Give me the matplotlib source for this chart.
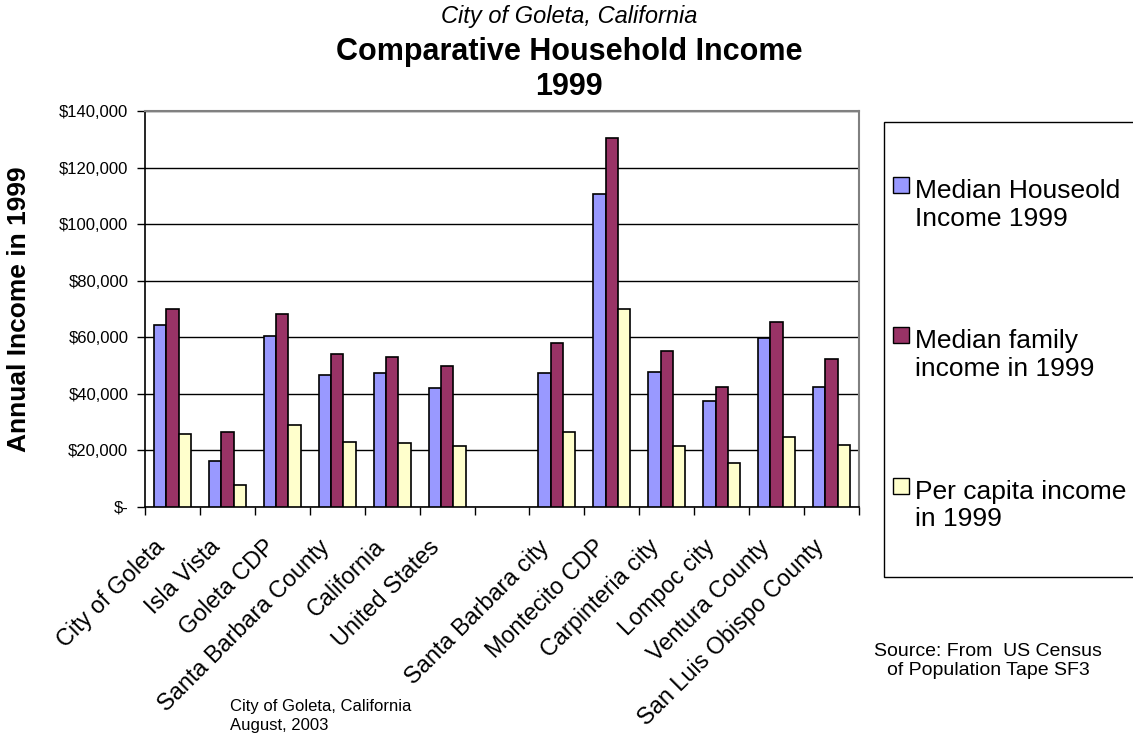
import numpy as np
import matplotlib
matplotlib.use("Agg")
import matplotlib.pyplot as plt
import matplotlib.transforms as mtransforms
from matplotlib.patches import Rectangle
from matplotlib.ticker import FuncFormatter, MultipleLocator

plt.rcParams['font.family'] = ['Liberation Sans', 'DejaVu Sans']

# Areas compared (blank entry separates the local group from the regional group)
areas = ["City of Goleta", "Isla Vista", "Goleta CDP", "Santa Barbara County",
         "California", "United States", "",
         "Santa Barbara city", "Montecito CDP", "Carpinteria city",
         "Lompoc city", "Ventura County", "San Luis Obispo County"]

median_household = [64500, 16300, 60400, 46700, 47500, 42000, np.nan,
                    47500, 110700, 47700, 37600, 59700, 42400]
median_family = [70100, 26400, 68100, 54000, 53000, 50000, np.nan,
                 57900, 130300, 55000, 42400, 65300, 52400]
per_capita = [25800, 7700, 29000, 23100, 22700, 21600, np.nan,
              26500, 70100, 21700, 15500, 24600, 21900]

series_names = ["Median Houseold\nIncome 1999",
                "Median family\nincome in 1999",
                "Per capita income\nin 1999"]
series_colors = ["#9999FF", "#993366", "#FFFFCC"]

W, H = 1133, 736
fig = plt.figure(figsize=(W / 100, H / 100), dpi=100)


def fx(x):
    return x / W


def fy(y):
    return 1 - y / H


ax = fig.add_axes([fx(145), fy(507), fx(859) - fx(145), fy(111) - fy(507)])

x = np.arange(len(areas))
bw = 0.224
for k, (vals, col) in enumerate(zip([median_household, median_family, per_capita],
                                    series_colors)):
    ax.bar(x + (k - 1) * bw, vals, width=bw, color=col, edgecolor="black",
           linewidth=1.2, zorder=3)

ax.set_xlim(-0.5, len(areas) - 0.5)
ax.set_ylim(0, 140000)
ax.yaxis.set_major_locator(MultipleLocator(20000))
ax.yaxis.set_major_formatter(FuncFormatter(
    lambda v, p: "$-" if v == 0 else f"${v:,.0f}"))
ax.grid(axis="y", color="black", linewidth=1.0, zorder=0)
ax.set_axisbelow(True)

ax.set_xticks(x)
ax.set_xticklabels(areas, rotation=45, ha="right", rotation_mode="anchor",
                   fontsize=16.8)
ax.set_xticks(np.arange(len(areas) + 1) - 0.5, minor=True)
ax.tick_params(axis="x", which="major", length=0, pad=22)
ax.tick_params(axis="x", which="minor", length=6, width=1, direction="out")
ax.tick_params(axis="y", length=6, width=1, direction="out", labelsize=12, pad=6)

# nudge the slanted category names so their ends sit just left of each group
shift = mtransforms.ScaledTranslation(-19 / 100, 2 / 100, fig.dpi_scale_trans)
for lbl in ax.get_xticklabels():
    lbl.set_transform(lbl.get_transform() + shift)

for s in ["left", "bottom"]:
    ax.spines[s].set_color("black")
    ax.spines[s].set_linewidth(1.2)
for s in ["top", "right"]:
    ax.spines[s].set_color("#808080")
    ax.spines[s].set_linewidth(1.5)

fig.text(fx(19), fy(309), "Annual Income in 1999", rotation=90, fontsize=19,
         fontweight="bold", ha="center", va="center")

# Titles
fig.text(fx(569), fy(17), "City of Goleta, California", fontsize=17,
         style="italic", ha="center", va="center")
fig.text(fx(569), fy(52), "Comparative Household Income", fontsize=22,
         fontweight="bold", ha="center", va="center")
fig.text(fx(569), fy(87), "1999", fontsize=22, fontweight="bold",
         ha="center", va="center")

# Legend box
fig.patches.append(Rectangle((fx(884), fy(577)), fx(1160) - fx(884),
                             fy(122) - fy(577), transform=fig.transFigure,
                             facecolor="white", edgecolor="black",
                             linewidth=1.0))
legend_baselines = [197, 347, 498]
line_gap = 28.5
for name, col, yb in zip(series_names, series_colors, legend_baselines):
    fig.patches.append(Rectangle((fx(893), fy(yb - 4)), fx(16), 16 / H,
                                 transform=fig.transFigure, facecolor=col,
                                 edgecolor="black", linewidth=1.0))
    fig.text(fx(915), fy(yb + line_gap), name, fontsize=19, ha="left",
             va="baseline", linespacing=1.2)

fig.text(fx(988), fy(661), "Source: From  US Census\nof Population Tape SF3",
         fontsize=14, ha="center", va="center", linespacing=1.15)
fig.text(fx(230), fy(716), "City of Goleta, California\nAugust, 2003",
         fontsize=12, ha="left", va="center", linespacing=1.3)

fig.savefig("out.png", dpi=100)
